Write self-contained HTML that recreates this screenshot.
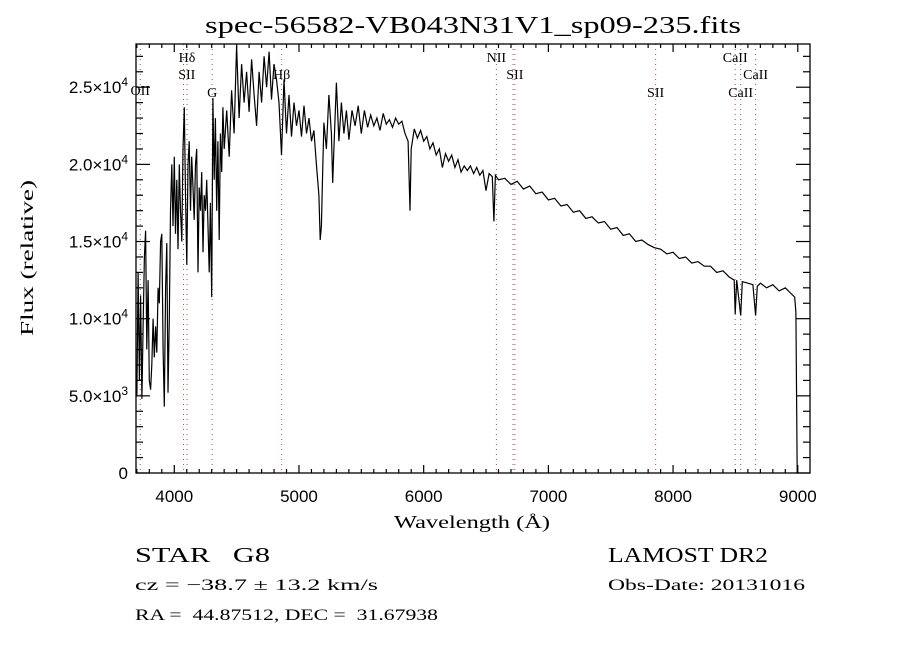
<!DOCTYPE html>
<html><head><meta charset="utf-8">
<style>
html,body{margin:0;padding:0;background:#fff;width:900px;height:650px;overflow:hidden}
svg{display:block}
</style></head>
<body>
<svg id="chart" width="900" height="650" xmlns="http://www.w3.org/2000/svg" font-family="'Liberation Serif', serif">
<text x="473" y="33" text-anchor="middle" font-size="24" textLength="536" lengthAdjust="spacingAndGlyphs">spec-56582-VB043N31V1_sp09-235.fits</text>
<g id="lines"></g>
<g id="axes"></g>
<path id="spec" fill="none" stroke="#000" stroke-width="1.2" stroke-linejoin="miter"/>
<rect x="136" y="44" width="674" height="429" fill="none" stroke="#000" stroke-width="1.3"/>
<text x="472" y="528" text-anchor="middle" font-size="18" textLength="156" lengthAdjust="spacingAndGlyphs">Wavelength (Å)</text>
<text transform="translate(33,258) rotate(-90)" text-anchor="middle" font-size="18" textLength="156" lengthAdjust="spacingAndGlyphs">Flux (relative)</text>
<text x="135" y="562" font-size="21" xml:space="preserve" textLength="135" lengthAdjust="spacingAndGlyphs">STAR   G8</text>
<text x="608" y="562" font-size="21" textLength="160" lengthAdjust="spacingAndGlyphs">LAMOST DR2</text>
<text x="135" y="590" font-size="16" textLength="243" lengthAdjust="spacingAndGlyphs">cz = −38.7 ± 13.2 km/s</text>
<text x="608" y="590" font-size="16" textLength="197" lengthAdjust="spacingAndGlyphs">Obs-Date: 20131016</text>
<text x="135" y="620" font-size="16" xml:space="preserve" textLength="303" lengthAdjust="spacingAndGlyphs">RA =  44.87512, DEC =  31.67938</text>
</svg>
<script>
const wavelengths=[3700,3710,3720,3730,3740,3750,3760,3770,3780,3790,3800,3810,3820,3830,3840,3850,3860,3870,3880,3890,3900,3910,3920,3930,3940,3950,3960,3970,3980,3990,4000,4010,4020,4030,4040,4050,4060,4070,4080,4090,4100,4110,4120,4130,4140,4150,4160,4170,4180,4190,4200,4210,4220,4230,4240,4250,4260,4270,4280,4290,4300,4310,4320,4330,4340,4350,4360,4370,4380,4390,4400,
4420,4440,4460,4480,4500,4520,4540,4560,4580,4600,4620,4640,4660,4680,4700,4720,4740,4760,4780,4800,4820,4840,4860,4880,4900,4920,4940,4960,4980,5000,5020,5040,5060,5080,5100,5120,5140,5160,5170,5180,5190,5200,5220,5240,5260,5270,5280,5300,5320,5340,5360,5380,5400,
5425,5450,5475,5500,5525,5550,5575,5600,5625,5650,5675,5700,5725,5750,5775,5800,5825,5850,5875,5890,5900,5925,5950,5975,6000,6025,6050,6075,6100,6125,6150,6175,6200,6225,6250,6275,6300,6325,6350,6375,6400,6425,6450,6475,6500,6525,6550,6563,6575,6600,
6650,6700,6750,6800,6850,6900,6950,7000,7050,7100,7150,7200,7250,7300,7350,7400,7450,7500,7550,7600,7650,7700,7750,7800,7850,7900,7950,8000,8050,8100,8150,8200,8250,8300,8350,8400,8450,8490,8498,8510,8542,8555,8600,8640,8662,8675,8700,8750,8800,8850,8900,8950,8975,8985,8995];
const fluxK=[5.0,13.0,6.0,11.5,4.8,9.5,14.0,15.7,8.0,12.5,6.0,5.4,7.0,10.0,7.5,9.5,7.8,12.0,11.0,15.0,15.5,8.0,4.3,12.0,14.9,5.2,10.0,17.0,20.0,16.0,20.5,15.5,19.0,14.5,20.0,17.0,15.0,21.0,23.7,18.0,13.5,20.0,21.5,17.0,20.5,18.5,16.4,20.0,21.0,13.0,18.5,17.0,19.5,14.3,18.0,17.0,19.0,16.0,13.0,17.5,11.4,24.3,19.0,23.0,17.0,21.5,15.1,22.0,19.5,23.7,21.0,
23.5,20.5,24.8,22.0,27.7,23.0,26.5,24.0,26.0,23.4,26.8,24.5,22.5,26.0,24.0,27.0,25.0,27.3,24.2,26.5,25.5,24.0,20.6,25.5,22.0,24.5,21.8,24.0,22.5,23.5,21.8,23.8,22.0,23.0,21.5,22.2,20.0,18.0,15.1,16.0,19.6,22.7,21.0,24.5,22.0,18.8,21.0,25.3,21.5,24.0,22.0,23.5,21.6,
23.5,22.5,23.8,22.0,23.5,22.4,23.2,22.5,23.0,22.2,23.3,22.6,22.9,22.4,23.0,22.6,22.8,22.0,21.5,17.0,21.0,22.3,21.7,22.2,21.5,21.8,21.0,21.4,20.6,21.0,19.8,20.7,20.2,20.6,19.8,20.3,19.5,19.9,19.6,19.9,19.4,19.8,19.3,19.6,18.3,19.4,19.2,16.3,19.3,19.0,
19.1,18.7,18.9,18.4,18.6,18.1,18.2,17.7,17.8,17.3,17.4,16.9,17.0,16.5,16.6,16.2,16.3,15.8,15.9,15.4,15.5,15.0,15.1,14.8,14.6,14.5,14.2,14.3,13.9,14.0,13.6,13.7,13.4,13.4,13.0,13.1,12.7,12.5,10.3,12.5,10.2,12.4,12.3,12.2,10.2,12.1,12.3,12.0,12.2,11.8,12.0,11.6,11.4,10.4,0];
const xTicksMajor=[4000,5000,6000,7000,8000,9000];
const yTicksMajor=[0,5000,10000,15000,20000,25000];
const yTickMant=["","5.0","1.0","1.5","2.0","2.5"];
const yTickExp=["","3","4","4","4","4"];
const markerWl=[3727,4074,4102,4304,4861,6583,6716,6731,7860,8498,8542,8662];
const markerLabels=[["OII",3727,90],["Hδ",4102,57],["SII",4100,74],["G",4304,92],["Hβ",4861,74],["NII",6583,57],["SII",6731,74],["SII",7860,92],["CaII",8498,57],["CaII",8662,74],["CaII",8542,92]];

const X0=136,X1=810,Y0=473,Y1=44,WMIN=3693,WMAX=9098,FMAX=27800;
const xs=w=>X0+(w-WMIN)/(WMAX-WMIN)*(X1-X0);
const ys=f=>Y0-f/FMAX*(Y0-Y1);
const NS="http://www.w3.org/2000/svg";
function mk(tag,parent,attrs){const e=document.createElementNS(NS,tag);for(const k in attrs)e.setAttribute(k,attrs[k]);parent.appendChild(e);return e;}

let d="";
for(let i=0;i<wavelengths.length;i++){d+=(i?"L":"M")+xs(wavelengths[i]).toFixed(1)+","+ys(fluxK[i]*1000).toFixed(1);}
document.getElementById("spec").setAttribute("d",d);

const axes=document.getElementById("axes");
for(let w=3700;w<=9000;w+=100){
  const major=w%1000===0, L=major?8:4, x=xs(w);
  const t1=mk("line",axes,{x1:x,x2:x,y1:Y0,y2:Y0-L,stroke:"#000","stroke-width":1.2});
  
  
  const t2=mk("line",axes,{x1:x,x2:x,y1:Y1,y2:Y1+L,stroke:"#000","stroke-width":1.2});
  
  
}
xTicksMajor.forEach(w=>{
  const t=mk("text",axes,{x:xs(w),y:502,"text-anchor":"middle","font-size":17,"font-family":"'Liberation Sans', sans-serif"});
  t.textContent=String(w);
  
  
});
for(let f=0;f<=27000;f+=1000){
  const major=f%5000===0, L=major?14:7, y=ys(f);
  const t1=mk("line",axes,{x1:X0,x2:X0+L,y1:y,y2:y,stroke:"#000","stroke-width":1.2});
  
  
  const t2=mk("line",axes,{x1:X1,x2:X1-L,y1:y,y2:y,stroke:"#000","stroke-width":1.2});
  
  
}
yTicksMajor.forEach((f,i)=>{
  const t=mk("text",axes,{x:128,y:ys(f)+6,"text-anchor":"end","font-size":17,"font-family":"'Liberation Sans', sans-serif"});
  
  
  if(yTickMant[i]===""){t.textContent="0";}
  else{
    t.textContent=yTickMant[i]+"×10";
    const s=mk("tspan",t,{dy:-7,"font-size":12});
    s.textContent=yTickExp[i];
  }
});

const lines=document.getElementById("lines");
markerWl.forEach(w=>{
  const l=mk("line",lines,{x1:xs(w),x2:xs(w),y1:Y1,y2:Y0,stroke:"#a05050","stroke-width":1,"stroke-dasharray":"1,4"});
  
  
});
markerLabels.forEach(m=>{
  const t=mk("text",lines,{x:xs(m[1]),y:m[2]+5,"text-anchor":"middle","font-size":14});
  t.textContent=m[0];
  
  
});
</script>
</body></html>
